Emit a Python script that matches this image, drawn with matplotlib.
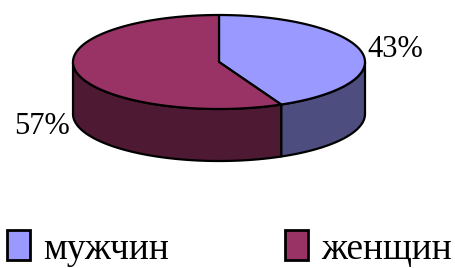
import numpy as np
import matplotlib.pyplot as plt
from matplotlib.patches import Polygon, Rectangle

labels = ['мужчин', 'женщин']
values = [43, 57]
top_colors = ['#9999FF', '#993366']
side_colors = ['#4D4D80', '#4D1933']

plt.rcParams['font.family'] = ['Liberation Serif', 'DejaVu Serif']

fig = plt.figure(figsize=(4.55, 2.68), dpi=100)
ax = fig.add_axes([0, 0, 1, 1])
ax.set_xlim(0, 455)
ax.set_ylim(268, 0)
ax.axis('off')

# ellipse geometry in pixels
cx, cy, rx, ry, depth = 219, 62, 146, 47, 52


def arc(a0, a1, n=300):
    a = np.radians(np.linspace(a0, a1, n))
    return cx + rx * np.cos(a), cy - ry * np.sin(a), a


fracs = np.array(values) / sum(values)
ends = 90 - 360 * np.cumsum(fracs)
starts = np.r_[90, ends[:-1]]

# side walls (front half only)
for s, e, c in zip(starts, ends, side_colors):
    x, y, a = arc(e, s)
    m = np.sin(a) <= 1e-9
    if m.sum() < 2:
        continue
    x, y = x[m], y[m]
    pts = np.r_[np.c_[x, y], np.c_[x[::-1], y[::-1] + depth]]
    ax.add_patch(Polygon(pts, closed=True, fc=c, ec='black', lw=1.6, joinstyle='round'))

# top faces
for s, e, c in zip(starts, ends, top_colors):
    x, y, a = arc(s, e)
    pts = np.r_[[[cx, cy]], np.c_[x, y]]
    ax.add_patch(Polygon(pts, closed=True, fc=c, ec='black', lw=1.6, joinstyle='round'))

# percent labels
for s, e, v in zip(starts, ends, values):
    mid = np.radians((s + e) / 2)
    lx = cx + 1.24 * rx * np.cos(mid)
    ly = cy - 1.24 * ry * np.sin(mid)
    if np.sin(mid) < 0:
        ly += depth
    ax.text(lx, ly, f'{v}%', fontsize=22, ha='center', va='center')

# legend
leg_x = [7, 285]
for lx, lab, c in zip(leg_x, labels, top_colors):
    ax.add_patch(Rectangle((lx, 230), 23, 30, fc=c, ec='black', lw=2))
    ax.text(lx + 36, 259, lab, fontsize=27, ha='left', va='baseline')

fig.savefig('out.png', dpi=100)
